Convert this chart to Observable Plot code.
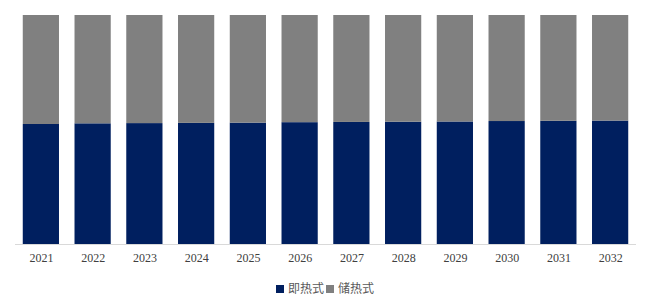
<!DOCTYPE html>
<html>
<head>
<meta charset="utf-8">
<script src="https://cdn.jsdelivr.net/npm/d3@7"></script>
<script src="https://cdn.jsdelivr.net/npm/@observablehq/plot@0.6"></script>
<style>
  body { margin: 0; background: #fff; }
  #chart svg text { font-family: "Liberation Serif", "DejaVu Serif", serif; font-size: 12px; fill: #404040; }
  #legend { text-align: center; font-family: "Noto Sans CJK SC", sans-serif; font-size: 12px; color: #595959; margin-top: 11px; line-height: 14px; }
  #legend span.sw { display: inline-block; width: 8px; height: 8px; margin-right: 4px; vertical-align: 0px; }
  #legend span.item { margin: 0 1px; }
</style>
</head>
<body>
<div id="chart"></div>
<script>
const years = ["2021","2022","2023","2024","2025","2026","2027","2028","2029","2030","2031","2032"];
const seriesNames = ["即热式", "储热式"];
const instantShare = [52.4, 52.7, 52.8, 52.9, 53.0, 53.2, 53.3, 53.4, 53.5, 53.7, 53.8, 53.9];
const storageShare = instantShare.map(v => 100 - v);
const colors = ["#001f5f", "#808080"];

const data = [];
years.forEach((y, i) => {
  data.push({year: y, series: seriesNames[0], value: instantShare[i]});
  data.push({year: y, series: seriesNames[1], value: storageShare[i]});
});

const chart = Plot.plot({
  width: 650,
  height: 270,
  marginLeft: 15,
  marginRight: 14,
  marginTop: 15,
  marginBottom: 26,
  x: {domain: years, paddingInner: 0.3, paddingOuter: 0.15, round: false, label: null, tickSize: 0, tickPadding: 9},
  y: {domain: [0, 100], axis: null},
  color: {domain: seriesNames, range: colors},
  style: {fontFamily: "'Liberation Serif', serif", fontSize: "12px", color: "#404040"},
  marks: [
    Plot.barY(data, {x: "year", y: "value", fill: "series", order: seriesNames}),
    Plot.ruleY([0], {stroke: "#d9d9d9", strokeWidth: 1})
  ]
});
document.getElementById("chart").appendChild(chart);

const legend = document.createElement("div");
legend.id = "legend";
legend.innerHTML = seriesNames.map((s, i) =>
  `<span class="item"><span class="sw" style="background:${colors[i]}"></span>${s}</span>`).join("");
document.body.appendChild(legend);
</script>
</body>
</html>
